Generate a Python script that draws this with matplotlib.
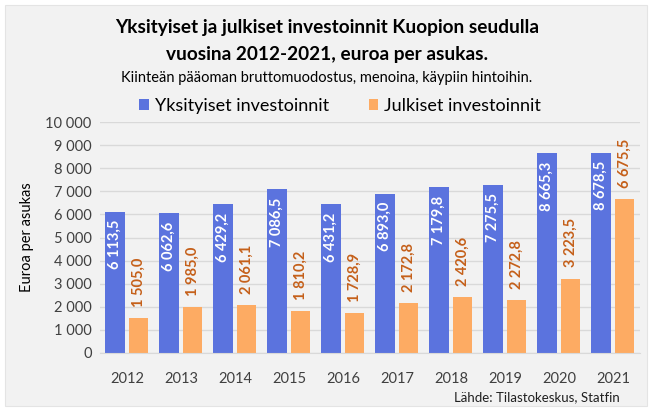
import numpy as np
import matplotlib
matplotlib.use('Agg')
import matplotlib.pyplot as plt
from matplotlib.patches import Rectangle

years = ['2012', '2013', '2014', '2015', '2016', '2017', '2018', '2019', '2020', '2021']
yksityiset = [6113.5, 6062.6, 6429.2, 7086.5, 6431.2, 6893.0, 7179.8, 7275.5, 8665.3, 8678.5]
julkiset = [1505.0, 1985.0, 2061.1, 1810.2, 1728.9, 2172.8, 2420.6, 2272.8, 3223.5, 6675.5]
yticks = [0, 1000, 2000, 3000, 4000, 5000, 6000, 7000, 8000, 9000, 10000]

plt.rcParams['font.family'] = ['Lato', 'DejaVu Sans']

BLUE = '#5b73de'
ORANGE = '#fdab63'
ORANGE_TXT = '#c5601a'


def fi(v, dec=1):
    # Finnish number format: space thousands, comma decimal
    return f"{v:,.{dec}f}".replace(',', ' ').replace('.', ',')


fig = plt.figure(figsize=(6.54, 4.11), dpi=100)
fig.patch.set_facecolor('white')
fig.patches.append(Rectangle((0.008, 0.012), 0.982, 0.976, transform=fig.transFigure,
                             facecolor='#f2f2f2', edgecolor='#e4e4e4', lw=0.8, zorder=-1))

ax = fig.add_axes([100 / 654, 1 - 353 / 411, 540 / 654, 231 / 411])
ax.set_facecolor('none')

x = np.arange(len(years))
w = 0.36
b1 = ax.bar(x - 0.225, yksityiset, w, color=BLUE, label='Yksityiset investoinnit', zorder=2)
b2 = ax.bar(x + 0.21, julkiset, w, color=ORANGE, label='Julkiset investoinnit', zorder=2)

for xi, v in zip(x, yksityiset):
    ax.annotate(fi(v), (xi - 0.225, v), xytext=(0, -6), textcoords='offset points',
                rotation=90, ha='center', va='top', color='white',
                fontsize=10.5, fontweight='bold')
for xi, v in zip(x, julkiset):
    ax.annotate(fi(v), (xi + 0.21, v), xytext=(0, 8), textcoords='offset points',
                rotation=90, ha='center', va='bottom', color=ORANGE_TXT,
                fontsize=10.5, fontweight='bold')

ax.set_xlim(-0.5, len(years) - 0.5)
ax.set_ylim(0, 10000)
ax.set_yticks(yticks)
ax.set_yticklabels([fi(t, 0) for t in yticks])
ax.set_xticks(x)
ax.set_xticklabels(years)
ax.tick_params(axis='both', length=0, labelsize=10.5, colors='#404040')
ax.tick_params(axis='x', pad=14)
ax.tick_params(axis='y', pad=6)
ax.grid(axis='y', color='#d9d9d9', lw=1, zorder=0)
for s in ['top', 'right', 'left']:
    ax.spines[s].set_visible(False)
ax.spines['bottom'].set_color('#d9d9d9')
ax.set_ylabel('Euroa per asukas', fontsize=10.5, color='#000000', labelpad=8)

fig.text(0.5, 1 - 28 / 411, 'Yksityiset ja julkiset investoinnit Kuopion seudulla',
         ha='center', va='center', fontsize=13.7, fontweight='bold')
fig.text(0.5, 1 - 54 / 411, 'vuosina 2012-2021, euroa per asukas.',
         ha='center', va='center', fontsize=13.7, fontweight='bold')
fig.text(0.5, 1 - 78 / 411, 'Kiinteän pääoman bruttomuodostus, menoina, käypiin hintoihin.',
         ha='center', va='center', fontsize=10.5)
fig.legend(handles=[b1, b2], loc='center', bbox_to_anchor=(0.52, 1 - 106 / 411), ncol=2,
           frameon=False, fontsize=13, handlelength=0.55, handleheight=0.55,
           handletextpad=0.3, columnspacing=2.2)
fig.text(620 / 654, 1 - 397 / 411, 'Lähde: Tilastokeskus, Statfin',
         ha='right', va='center', fontsize=9.5, color='#202020')

fig.savefig('out.png', dpi=100)
